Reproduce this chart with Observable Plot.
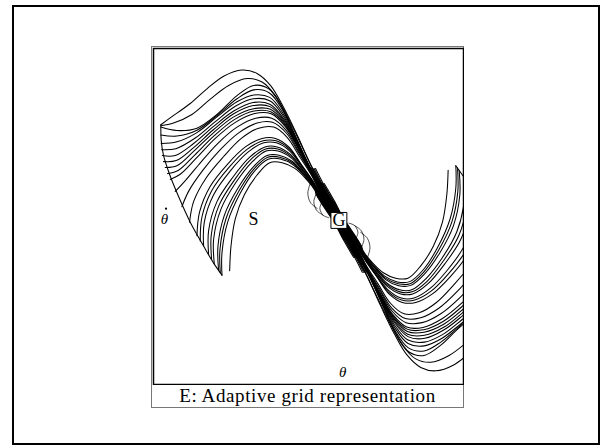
<!DOCTYPE html>
<html><head><meta charset="utf-8">
<script src="https://cdn.jsdelivr.net/npm/d3@7"></script>
<script src="https://cdn.jsdelivr.net/npm/@observablehq/plot@0.6"></script>
<style>
body{margin:0;background:#fff}
#page{position:relative;width:602px;height:447px;overflow:hidden;font-family:"Liberation Serif","DejaVu Serif",serif}
#border{position:absolute;left:12px;top:5px;width:588px;height:440px;border:2.5px solid #000;box-sizing:border-box}
#figure{position:absolute;left:151px;top:46px;width:313px;height:362px;border:1px solid #777;box-sizing:border-box}
#chart{position:absolute;left:152px;top:47px}
#caption{position:absolute;left:152px;top:384px;width:311px;text-align:center;font-size:19px;letter-spacing:0.6px;line-height:23px;color:#000}
</style></head>
<body>
<div id="page">
  <div id="border"></div>
  <div id="figure"></div>
  <div id="chart"></div>
  <div id="caption">E: Adaptive grid representation</div>
</div>
<script>
// Trajectories in the (θ, θ̇) phase plane, each a flat list x0,y0,x1,y1,...
// Upper family: from the left start region over the hump towards the goal band.
const upperCurves = [
  [-5.33,2.80, -5.05,3.00, -4.45,3.42, -3.95,3.85, -3.45,4.22, -2.90,4.40, -2.45,4.30, -2.05,3.95, -1.65,3.30, -1.25,2.50, -0.80,1.55],
  [-5.33,2.77, -4.95,2.85, -4.40,3.10, -3.85,3.55, -3.30,3.95, -2.75,4.15, -2.30,4.05, -1.90,3.65, -1.50,2.95, -1.10,2.15, -0.78,1.50],
  [-5.33,2.73, -4.85,2.63, -4.25,2.70, -3.65,3.10, -3.05,3.65, -2.55,3.95, -2.10,3.85, -1.70,3.30, -1.30,2.47, -0.87,1.57],
  [-5.33,2.50, -4.85,2.47, -4.25,2.64, -3.65,3.07, -3.05,3.56, -2.55,3.82, -2.08,3.73, -1.68,3.22, -1.29,2.42, -0.86,1.54],
  [-5.32,2.25, -4.85,2.30, -4.25,2.57, -3.65,3.03, -3.05,3.47, -2.55,3.67, -2.07,3.60, -1.67,3.13, -1.28,2.37, -0.85,1.51],
  [-5.31,2.07, -4.88,2.10, -4.30,2.41, -3.70,2.89, -3.10,3.34, -2.56,3.56, -2.07,3.50, -1.66,3.05, -1.27,2.32, -0.85,1.49],
  [-5.29,1.90, -4.90,1.90, -4.35,2.25, -3.75,2.75, -3.15,3.20, -2.57,3.45, -2.07,3.40, -1.65,2.97, -1.26,2.27, -0.84,1.47],
  [-5.25,1.72, -4.87,1.75, -4.35,2.13, -3.75,2.66, -3.15,3.12, -2.56,3.36, -2.06,3.33, -1.64,2.91, -1.25,2.23, -0.83,1.45],
  [-5.20,1.55, -4.85,1.60, -4.35,2.02, -3.75,2.57, -3.15,3.03, -2.55,3.27, -2.05,3.25, -1.63,2.85, -1.25,2.20, -0.83,1.43],
  [-5.13,1.37, -4.80,1.47, -4.31,1.92, -3.73,2.48, -3.13,2.95, -2.54,3.20, -2.04,3.18, -1.62,2.80, -1.24,2.16, -0.82,1.41],
  [-5.05,1.20, -4.75,1.35, -4.27,1.82, -3.70,2.40, -3.10,2.87, -2.52,3.13, -2.03,3.12, -1.61,2.75, -1.23,2.13, -0.82,1.39],
  [-4.90,0.85, -4.63,1.13, -4.18,1.65, -3.63,2.25, -3.05,2.73, -2.49,2.99, -2.01,2.99, -1.59,2.65, -1.22,2.05, -0.81,1.35],
  [-4.70,0.40, -4.50,0.85, -4.07,1.47, -3.55,2.07, -2.99,2.57, -2.45,2.85, -1.99,2.87, -1.57,2.55, -1.20,1.97, -0.80,1.31],
  [-4.47,-0.05, -4.35,0.55, -3.97,1.25, -3.45,1.87, -2.92,2.40, -2.40,2.70, -1.95,2.73, -1.55,2.43, -1.18,1.87, -0.78,1.25],
  [-4.25,-0.45, -4.17,0.25, -3.85,1.00, -3.33,1.65, -2.80,2.15, -2.30,2.40, -1.90,2.40, -1.50,2.15, -1.15,1.67, -0.75,1.11],
  [-4.15,-0.60, -4.10,0.10, -3.80,0.88, -3.29,1.55, -2.76,2.07, -2.27,2.33, -1.88,2.33, -1.48,2.09, -1.13,1.63, -0.74,1.08],
  [-4.05,-0.75, -4.03,-0.05, -3.75,0.75, -3.25,1.45, -2.73,1.99, -2.25,2.27, -1.87,2.27, -1.47,2.03, -1.12,1.59, -0.73,1.05],
  [-3.90,-1.00, -3.90,-0.30, -3.65,0.55, -3.17,1.27, -2.67,1.85, -2.21,2.15, -1.85,2.15, -1.45,1.93, -1.10,1.52, -0.71,1.00],
  [-3.81,-1.14, -3.82,-0.42, -3.59,0.44, -3.13,1.18, -2.64,1.78, -2.19,2.09, -1.83,2.09, -1.44,1.88, -1.09,1.48, -0.70,0.97],
  [-3.73,-1.27, -3.75,-0.55, -3.53,0.33, -3.09,1.10, -2.61,1.70, -2.18,2.03, -1.82,2.03, -1.43,1.83, -1.08,1.45, -0.69,0.95],
  [-3.60,-1.47, -3.62,-0.75, -3.43,0.15, -3.02,0.95, -2.56,1.57, -2.15,1.90, -1.79,1.91, -1.40,1.73, -1.05,1.37, -0.70,0.93],
  [-3.55,-1.54, -3.56,-0.85, -3.38,0.05, -2.98,0.88, -2.54,1.51, -2.13,1.85, -1.77,1.85, -1.38,1.68, -1.03,1.33, -0.70,0.91],
  [-3.50,-1.60, -3.50,-0.95, -3.33,-0.05, -2.95,0.80, -2.52,1.45, -2.12,1.79, -1.75,1.80, -1.37,1.63, -1.02,1.29, -0.71,0.89],
  [-3.27,-1.47, -3.23,-0.75, -3.10,0.05, -2.83,0.75, -2.45,1.33, -2.07,1.69, -1.70,1.69, -1.33,1.53, -0.98,1.21, -0.72,0.88]
];

// Their run along the switching band, through the goal box and some way past it
const upperTails = [
  [-0.33,0.74, 0.16,0, 0.42,-0.56],
  [-0.34,0.74, 0.15,0, 0.41,-0.56, 0.67,-1.08],
  [-0.36,0.74, 0.13,0, 0.40,-0.56, 0.66,-1.08, 0.88,-1.52],
  [-0.37,0.74, 0.12,0],
  [-0.39,0.74, 0.10,0, 0.37,-0.56, 0.64,-1.08, 0.86,-1.52],
  [-0.40,0.74, 0.09,0, 0.36,-0.56],
  [-0.42,0.74, 0.07,0, 0.34,-0.56, 0.62,-1.08],
  [-0.43,0.74, 0.06,0],
  [-0.45,0.74, 0.04,0, 0.32,-0.56, 0.60,-1.08, 0.82,-1.52],
  [-0.46,0.74, 0.03,0, 0.30,-0.56],
  [-0.48,0.74, 0.01,0, 0.29,-0.56, 0.58,-1.08],
  [-0.49,0.74, 0.00,0],
  [-0.51,0.74, -0.02,0, 0.26,-0.56, 0.55,-1.08, 0.78,-1.52],
  [-0.52,0.74, -0.03,0, 0.25,-0.56],
  [-0.54,0.74, -0.05,0, 0.24,-0.56, 0.53,-1.08],
  [-0.55,0.74, -0.06,0],
  [-0.57,0.74, -0.08,0, 0.21,-0.56, 0.51,-1.08, 0.74,-1.52],
  [-0.58,0.74, -0.09,0, 0.20,-0.56],
  [-0.60,0.74, -0.11,0, 0.18,-0.56, 0.49,-1.08],
  [-0.61,0.74, -0.12,0],
  [-0.63,0.74, -0.14,0, 0.16,-0.56, 0.47,-1.08, 0.70,-1.52],
  [-0.64,0.74, -0.15,0, 0.14,-0.56],
  [-0.66,0.74, -0.17,0, 0.13,-0.56, 0.44,-1.08],
  [-0.67,0.74, -0.18,0]
];

// Lower family: from the right start region through the trough up to the goal band.
const lowerCurves = [
  [5.33,-2.80, 5.05,-3.00, 4.45,-3.42, 3.95,-3.85, 3.45,-4.22, 2.90,-4.40, 2.45,-4.30, 2.05,-3.95, 1.65,-3.30, 1.25,-2.50, 0.80,-1.55],
  [5.33,-2.77, 4.95,-2.85, 4.40,-3.10, 3.85,-3.55, 3.30,-3.95, 2.75,-4.15, 2.30,-4.05, 1.90,-3.65, 1.50,-2.95, 1.10,-2.15, 0.78,-1.50],
  [5.33,-2.73, 4.85,-2.63, 4.25,-2.70, 3.65,-3.10, 3.05,-3.65, 2.55,-3.95, 2.10,-3.85, 1.70,-3.30, 1.30,-2.47, 0.87,-1.57],
  [5.33,-2.50, 4.85,-2.47, 4.25,-2.64, 3.65,-3.07, 3.05,-3.56, 2.55,-3.82, 2.08,-3.73, 1.68,-3.22, 1.29,-2.42, 0.86,-1.54],
  [5.32,-2.25, 4.85,-2.30, 4.25,-2.57, 3.65,-3.03, 3.05,-3.47, 2.55,-3.67, 2.07,-3.60, 1.67,-3.13, 1.28,-2.37, 0.85,-1.51],
  [5.31,-2.07, 4.88,-2.10, 4.30,-2.41, 3.70,-2.89, 3.10,-3.34, 2.56,-3.56, 2.07,-3.50, 1.66,-3.05, 1.27,-2.32, 0.85,-1.49],
  [5.29,-1.90, 4.90,-1.90, 4.35,-2.25, 3.75,-2.75, 3.15,-3.20, 2.57,-3.45, 2.07,-3.40, 1.65,-2.97, 1.26,-2.27, 0.84,-1.47],
  [5.25,-1.72, 4.87,-1.75, 4.35,-2.13, 3.75,-2.66, 3.15,-3.12, 2.56,-3.36, 2.06,-3.33, 1.64,-2.91, 1.25,-2.23, 0.83,-1.45],
  [5.20,-1.55, 4.85,-1.60, 4.35,-2.02, 3.75,-2.57, 3.15,-3.03, 2.55,-3.27, 2.05,-3.25, 1.63,-2.85, 1.25,-2.20, 0.83,-1.43],
  [5.13,-1.37, 4.80,-1.47, 4.31,-1.92, 3.73,-2.48, 3.13,-2.95, 2.54,-3.20, 2.04,-3.18, 1.62,-2.80, 1.24,-2.16, 0.82,-1.41],
  [5.05,-1.20, 4.75,-1.35, 4.27,-1.82, 3.70,-2.40, 3.10,-2.87, 2.52,-3.13, 2.03,-3.12, 1.61,-2.75, 1.23,-2.13, 0.82,-1.39],
  [4.90,-0.85, 4.63,-1.13, 4.18,-1.65, 3.63,-2.25, 3.05,-2.73, 2.49,-2.99, 2.01,-2.99, 1.59,-2.65, 1.22,-2.05, 0.81,-1.35],
  [4.70,-0.40, 4.50,-0.85, 4.07,-1.47, 3.55,-2.07, 2.99,-2.57, 2.45,-2.85, 1.99,-2.87, 1.57,-2.55, 1.20,-1.97, 0.80,-1.31],
  [4.47,0.05, 4.35,-0.55, 3.97,-1.25, 3.45,-1.87, 2.92,-2.40, 2.40,-2.70, 1.95,-2.73, 1.55,-2.43, 1.18,-1.87, 0.78,-1.25],
  [4.25,0.45, 4.17,-0.25, 3.85,-1.00, 3.33,-1.65, 2.80,-2.15, 2.30,-2.40, 1.90,-2.40, 1.50,-2.15, 1.15,-1.67, 0.75,-1.11],
  [4.15,0.60, 4.10,-0.10, 3.80,-0.88, 3.29,-1.55, 2.76,-2.07, 2.27,-2.33, 1.88,-2.33, 1.48,-2.09, 1.13,-1.63, 0.74,-1.08],
  [4.05,0.75, 4.03,0.05, 3.75,-0.75, 3.25,-1.45, 2.73,-1.99, 2.25,-2.27, 1.87,-2.27, 1.47,-2.03, 1.12,-1.59, 0.73,-1.05],
  [3.90,1.00, 3.90,0.30, 3.65,-0.55, 3.17,-1.27, 2.67,-1.85, 2.21,-2.15, 1.85,-2.15, 1.45,-1.93, 1.10,-1.52, 0.71,-1.00],
  [3.81,1.14, 3.82,0.42, 3.59,-0.44, 3.13,-1.18, 2.64,-1.78, 2.19,-2.09, 1.83,-2.09, 1.44,-1.88, 1.09,-1.48, 0.70,-0.97],
  [3.73,1.27, 3.75,0.55, 3.53,-0.33, 3.09,-1.10, 2.61,-1.70, 2.18,-2.03, 1.82,-2.03, 1.43,-1.83, 1.08,-1.45, 0.69,-0.95],
  [3.60,1.47, 3.62,0.75, 3.43,-0.15, 3.02,-0.95, 2.56,-1.57, 2.15,-1.90, 1.79,-1.91, 1.40,-1.73, 1.05,-1.37, 0.70,-0.93],
  [3.55,1.54, 3.56,0.85, 3.38,-0.05, 2.98,-0.88, 2.54,-1.51, 2.13,-1.85, 1.77,-1.85, 1.38,-1.68, 1.03,-1.33, 0.70,-0.91],
  [3.50,1.60, 3.50,0.95, 3.33,0.05, 2.95,-0.80, 2.52,-1.45, 2.12,-1.79, 1.75,-1.80, 1.37,-1.63, 1.02,-1.29, 0.71,-0.89],
  [3.27,1.47, 3.23,0.75, 3.10,-0.05, 2.83,-0.75, 2.45,-1.33, 2.07,-1.69, 1.70,-1.69, 1.33,-1.53, 0.98,-1.21, 0.72,-0.88]
];

const lowerTails = [
  [0.33,-0.74, -0.16,0, -0.42,0.56],
  [0.34,-0.74, -0.15,0, -0.41,0.56, -0.67,1.08],
  [0.36,-0.74, -0.13,0, -0.40,0.56, -0.66,1.08, -0.88,1.52],
  [0.37,-0.74, -0.12,0],
  [0.39,-0.74, -0.10,0, -0.37,0.56, -0.64,1.08, -0.86,1.52],
  [0.40,-0.74, -0.09,0, -0.36,0.56],
  [0.42,-0.74, -0.07,0, -0.34,0.56, -0.62,1.08],
  [0.43,-0.74, -0.06,0],
  [0.45,-0.74, -0.04,0, -0.32,0.56, -0.60,1.08, -0.82,1.52],
  [0.46,-0.74, -0.03,0, -0.30,0.56],
  [0.48,-0.74, -0.01,0, -0.29,0.56, -0.58,1.08],
  [0.49,-0.74, 0.00,0],
  [0.51,-0.74, 0.02,0, -0.26,0.56, -0.55,1.08, -0.78,1.52],
  [0.52,-0.74, 0.03,0, -0.25,0.56],
  [0.54,-0.74, 0.05,0, -0.24,0.56, -0.53,1.08],
  [0.55,-0.74, 0.06,0],
  [0.57,-0.74, 0.08,0, -0.21,0.56, -0.51,1.08, -0.74,1.52],
  [0.58,-0.74, 0.09,0, -0.20,0.56],
  [0.60,-0.74, 0.11,0, -0.18,0.56, -0.49,1.08],
  [0.61,-0.74, 0.12,0],
  [0.63,-0.74, 0.14,0, -0.16,0.56, -0.47,1.08, -0.70,1.52],
  [0.64,-0.74, 0.15,0, -0.14,0.56],
  [0.66,-0.74, 0.17,0, -0.13,0.56, -0.44,1.08],
  [0.67,-0.74, 0.18,0]
];

// Outer edges of the region the trajectories start from
const leftEdge = [-5.33,2.80, -5.32,2.35, -5.25,1.90, -5.07,1.35, -4.80,0.70, -4.45,-0.05, -4.05,-0.75, -3.75,-1.25, -3.50,-1.60];
const rightEdge = [5.33,-2.80, 5.32,-2.35, 5.25,-1.90, 5.07,-1.35, 4.80,-0.70, 4.45,0.05, 4.05,0.75, 3.75,1.25, 3.50,1.60];

// Short grid arcs curling into the goal
const goalArcs = [
  [-0.85,1.10, -0.93,0.80, -0.85,0.52, -0.65,0.35],
  [-0.67,0.80, -0.75,0.55, -0.67,0.30, -0.47,0.15],
  [-0.50,0.55, -0.57,0.35, -0.47,0.15, -0.30,0.08],
  [0.85,-1.10, 0.93,-0.80, 0.85,-0.52, 0.65,-0.35],
  [0.67,-0.80, 0.75,-0.55, 0.67,-0.30, 0.47,-0.15],
  [0.50,-0.55, 0.57,-0.35, 0.47,-0.15, 0.30,-0.08]
];

// Point labels
const goalLabel = ["G"];  const goalX = [0];     const goalY = [0];
const startLabel = ["S"]; const startX = [-2.56]; const startY = [0.03];
const axisLabels = ["θ", "θ"]; const axisX = [-5.22, 0.11]; const axisY = [0.05, -4.45];
// the time-derivative dot sits over the vertical-axis θ
const derivX = [-5.22]; const derivY = [0.05];

function toRows(list, prefix, tails) {
  return list.flatMap((c, i) => {
    const pts = tails ? c.concat(tails[i]) : c;
    const out = [];
    for (let k = 0; k < pts.length; k += 2) out.push({x: pts[k], y: pts[k + 1], id: prefix + i});
    return out;
  });
}

const lineStyle = {x: "x", y: "y", z: "id", stroke: "#000", strokeWidth: 1.05, clip: true, curve: "catmull-rom"};

const chart = Plot.plot({
  width: 312,
  height: 338,
  margin: 1,
  x: {domain: [-5.55, 3.73], axis: null},
  y: {domain: [-4.80, 5.03], axis: null},
  marks: [
    Plot.line(toRows(upperCurves, "u", upperTails), lineStyle),
    Plot.line(toRows(lowerCurves, "l", lowerTails), lineStyle),
    Plot.line(toRows([leftEdge, rightEdge], "e"), lineStyle),
    Plot.line(toRows(goalArcs, "a"), {...lineStyle, strokeWidth: 0.7}),
    Plot.dot(goalLabel, {x: (d, i) => goalX[i], y: (d, i) => goalY[i], symbol: "square", r: 9, fill: "#fff", stroke: "#000", strokeWidth: 1}),
    Plot.text(goalLabel, {x: (d, i) => goalX[i], y: (d, i) => goalY[i], text: d => d, fontSize: 18, fontFamily: "Liberation Serif", fill: "#000"}),
    Plot.text(startLabel, {x: (d, i) => startX[i], y: (d, i) => startY[i], text: d => d, fontSize: 18, fontFamily: "Liberation Serif", fill: "#000"}),
    Plot.text(axisLabels, {x: (d, i) => axisX[i], y: (d, i) => axisY[i], text: d => d, fontSize: 15, fontStyle: "italic", fontFamily: "Liberation Serif", fill: "#000"}),
    Plot.dot(derivX, {x: d => d, y: (d, i) => derivY[i], r: 1.1, fill: "#000", stroke: null, dx: 1.5, dy: -10}),
    Plot.frame({stroke: "#000", strokeWidth: 1.5})
  ]
});
document.getElementById("chart").append(chart);
</script>
</body></html>
